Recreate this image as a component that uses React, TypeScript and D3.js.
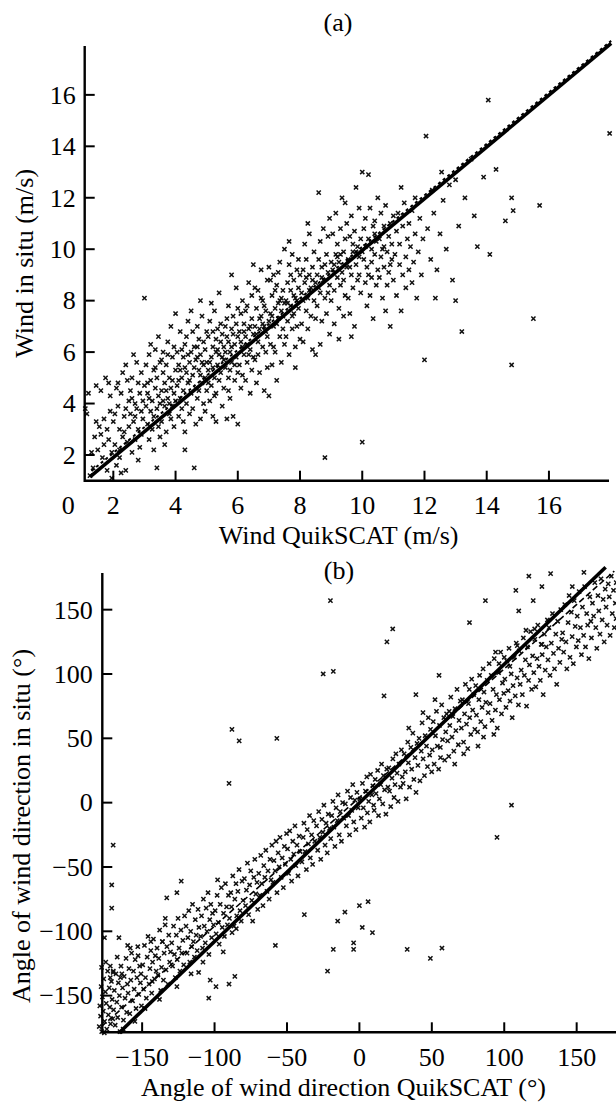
import React from 'react';
import * as d3 from 'd3';

// ---------- Data ----------
const speedTicks: number[] = [2, 4, 6, 8, 10, 12, 14, 16];
const speedTickLabels: string[] = ['2', '4', '6', '8', '10', '12', '14', '16'];
const speedOriginLabel = '0';
const dirTicks: number[] = [-150, -100, -50, 0, 50, 100, 150];
const dirTickLabels: string[] = ['\u2212150', '\u2212100', '\u221250', '0', '50', '100', '150'];

const titleA = '(a)';
const titleB = '(b)';
const xLabelA = 'Wind QuikSCAT (m/s)';
const yLabelA = 'Wind in situ (m/s)';
const xLabelB = 'Angle of wind direction QuikSCAT (\u00B0)';
const yLabelB = 'Angle of wind direction in situ (\u00B0)';

// Wind speed: [QuikSCAT, in situ] (m/s)
const windSpeedPoints: [number, number][] = [
  [1.1,3.8],[1.15,3.6],[1.25,1.2],[1.3,2.1],[1.35,1.5],[1.4,2.7],[1.45,4.7],[1.45,3.3],[1.5,2.2],[1.2,4.4],
  [1.55,3.1],[1.6,4.5],[1.6,2.8],[1.65,1.9],[1.7,3.4],[1.7,2.4],[1.75,5.0],[1.8,3.0],[1.8,1.4],[1.85,2.6],[1.9,3.7],[1.9,4.3],[1.95,2.1],[1.95,1.1],[2.0,3.3],[1.85,4.8],
  [2.05,2.4],[2.1,4.6],[2.1,1.6],[2.15,3.9],[2.2,2.2],[2.2,3.0],[2.25,4.4],[2.3,2.7],[2.3,5.2],[2.35,3.5],[2.4,1.4],[2.4,3.8],[2.45,2.5],[2.45,4.9],[2.5,3.1],[2.5,4.1],[2.2,1.9],[2.35,2.9],[2.05,3.6],[2.15,4.8],[2.4,5.5],[2.25,1.3],
  [2.55,3.6],[2.55,4.5],[2.6,2.1],[2.6,5.0],[2.65,3.3],[2.7,4.0],[2.7,2.6],[2.75,5.6],[2.75,3.8],[2.8,4.8],[2.8,3.0],[2.85,4.4],[2.85,2.3],[2.9,3.7],[2.9,5.2],[2.95,4.1],[2.95,3.4],[3.0,8.1],[3.0,4.7],[2.6,4.2],[2.7,3.5],[2.9,2.8],[2.65,5.9],[2.8,1.8],
  [3.05,3.9],[3.05,5.5],[3.1,3.2],[3.1,4.4],[3.15,5.9],[3.15,2.6],[3.2,3.7],[3.2,4.9],[3.25,4.1],[3.3,5.3],[3.3,3.5],[3.3,2.2],[3.35,4.6],[3.35,6.1],[3.4,3.8],[3.4,5.0],[3.45,4.3],[3.45,3.1],[3.5,5.6],[3.5,4.0],[3.2,6.3],[3.4,1.5],[3.1,4.8],[3.25,3.0],[3.35,5.4],[3.45,6.6],[3.15,4.2],[3.5,2.7],
  [3.55,4.5],[3.55,3.3],[3.6,5.2],[3.6,6.0],[3.65,3.9],[3.65,4.8],[3.7,2.9],[3.7,5.5],[3.75,4.2],[3.75,6.4],[3.8,3.6],[3.8,5.0],[3.85,4.6],[3.85,7.0],[3.9,3.9],[3.9,5.8],[3.95,4.4],[3.95,3.1],[4.0,5.3],[4.0,7.5],[3.6,4.1],[3.7,4.5],[3.8,4.0],[3.9,4.9],[3.65,2.4],[3.75,5.9],[3.85,3.4],[3.95,6.2],[3.55,5.7],[4.0,4.1],
  [4.05,4.7],[4.05,6.0],[4.1,3.5],[4.1,5.5],[4.15,4.2],[4.15,6.8],[4.2,5.0],[4.2,3.8],[4.25,5.8],[4.25,4.5],[4.3,6.3],[4.3,2.9],[4.35,5.2],[4.35,4.0],[4.4,7.2],[4.4,4.8],[4.45,5.6],[4.45,3.6],[4.5,6.0],[4.5,4.4],[4.1,4.9],[4.2,6.1],[4.3,5.4],[4.4,5.9],[4.25,3.3],[4.35,6.6],[4.45,4.9],[4.15,5.3],[4.5,7.6],[4.3,2.2],
  [4.55,5.1],[4.55,3.8],[4.6,6.2],[4.6,1.5],[4.65,4.6],[4.65,5.7],[4.7,7.0],[4.7,4.2],[4.75,5.3],[4.75,6.5],[4.8,3.4],[4.8,5.9],[4.85,4.8],[4.85,7.4],[4.9,5.5],[4.9,4.0],[4.95,6.1],[4.95,5.0],[5.0,6.8],[5.0,4.5],[4.6,5.4],[4.7,5.8],[4.8,5.1],[4.9,6.4],[4.65,3.2],[4.75,4.5],[4.85,5.6],[4.95,3.7],[4.55,6.8],[5.0,5.6],[4.8,8.0],[4.7,6.2],
  [5.05,5.3],[5.05,6.6],[5.1,4.1],[5.1,7.2],[5.15,5.8],[5.15,4.7],[5.2,6.2],[5.2,3.5],[5.25,5.0],[5.25,7.6],[5.3,6.0],[5.3,4.4],[5.35,5.5],[5.35,6.9],[5.4,4.9],[5.4,8.3],[5.45,6.4],[5.45,5.2],[5.5,5.8],[5.5,3.9],[5.1,5.6],[5.2,5.4],[5.3,6.5],[5.4,5.9],[5.15,7.9],[5.25,4.3],[5.35,6.1],[5.45,7.1],[5.05,4.8],[5.5,6.7],[5.3,3.3],[5.2,6.8],
  [5.55,6.2],[5.55,4.6],[5.6,7.0],[5.6,5.4],[5.65,3.4],[5.65,6.6],[5.7,5.0],[5.7,7.8],[5.75,6.0],[5.75,4.2],[5.8,6.9],[5.8,5.6],[5.85,3.5],[5.85,7.4],[5.9,6.3],[5.9,4.9],[5.95,5.8],[5.95,8.5],[6.0,6.6],[6.0,3.2],[5.6,6.0],[5.7,6.4],[5.8,6.2],[5.9,5.5],[5.65,7.3],[5.75,5.3],[5.85,6.7],[5.95,7.1],[5.55,5.7],[6.0,5.2],[5.8,9.0],[5.7,4.5],
  [6.05,6.8],[6.05,5.5],[6.1,7.5],[6.1,4.6],[6.15,6.2],[6.15,8.0],[6.2,5.9],[6.2,7.1],[6.25,4.9],[6.25,6.6],[6.3,7.8],[6.3,5.6],[6.35,6.9],[6.35,8.7],[6.4,6.1],[6.4,4.4],[6.45,7.3],[6.45,5.3],[6.5,6.7],[6.5,9.4],[6.1,6.4],[6.2,6.8],[6.3,6.3],[6.4,7.0],[6.15,5.1],[6.25,7.6],[6.35,5.9],[6.45,8.2],[6.0,7.7],[6.5,5.8],
  [6.55,7.0],[6.55,5.7],[6.6,7.7],[6.6,4.8],[6.65,6.4],[6.65,8.4],[6.7,6.9],[6.7,5.2],[6.75,7.4],[6.75,9.2],[6.8,6.2],[6.8,8.0],[6.85,7.0],[6.85,4.5],[6.9,7.6],[6.9,6.0],[6.95,8.8],[6.95,6.6],[7.0,7.2],[7.0,9.3],[6.6,6.7],[6.7,7.3],[6.8,7.1],[6.9,6.8],[6.65,5.9],[6.75,8.1],[6.85,7.8],[6.95,5.4],[7.0,4.3],[6.55,8.5],
  [7.05,7.5],[7.05,6.3],[7.1,8.2],[7.1,5.5],[7.15,7.0],[7.15,9.0],[7.2,7.7],[7.2,6.0],[7.25,8.6],[7.25,4.9],[7.3,7.3],[7.3,9.1],[7.35,6.6],[7.35,8.0],[7.4,7.6],[7.4,5.6],[7.45,8.4],[7.45,6.9],[7.5,7.9],[7.5,10.0],[7.1,7.4],[7.2,8.4],[7.3,7.9],[7.4,8.1],[7.15,6.2],[7.25,7.1],[7.35,9.5],[7.45,7.4],[7.05,8.8],[7.5,6.3],
  [7.55,8.0],[7.55,6.6],[7.6,8.7],[7.6,7.2],[7.65,9.4],[7.65,5.9],[7.7,7.8],[7.7,8.4],[7.75,6.9],[7.75,9.8],[7.8,7.5],[7.8,8.8],[7.85,6.2],[7.85,8.1],[7.9,9.2],[7.9,7.0],[7.95,8.5],[7.95,7.7],[8.0,9.0],[8.0,6.5],[7.6,7.9],[7.7,9.0],[7.8,8.2],[7.9,8.0],[7.65,10.3],[7.75,7.4],[7.85,5.4],[7.95,9.6],
  [8.05,8.3],[8.05,7.1],[8.1,9.2],[8.1,6.4],[8.15,8.7],[8.15,10.2],[8.2,7.6],[8.2,9.6],[8.25,8.1],[8.25,6.9],[8.3,9.0],[8.3,10.6],[8.35,7.4],[8.35,8.5],[8.4,9.3],[8.4,6.1],[8.45,8.0],[8.45,9.9],[8.5,8.7],[8.5,7.3],[8.1,8.0],[8.2,8.9],[8.3,8.4],[8.4,8.8],[8.25,11.0],[8.5,5.9],
  [8.55,9.0],[8.55,7.8],[8.6,12.2],[8.6,9.6],[8.65,8.3],[8.65,10.3],[8.7,7.2],[8.7,9.3],[8.75,8.8],[8.75,10.8],[8.8,1.9],[8.8,8.1],[8.85,9.8],[8.85,7.5],[8.9,9.1],[8.9,10.5],[8.95,8.6],[8.95,6.7],[9.0,9.5],[9.0,8.0],[8.6,8.5],[8.7,8.9],[8.8,9.4],[8.9,8.3],[8.65,6.3],[8.95,11.2],
  [9.05,9.2],[9.05,10.6],[9.1,8.4],[9.1,7.1],[9.15,9.8],[9.15,11.4],[9.2,8.9],[9.2,10.2],[9.25,7.7],[9.25,9.5],[9.3,10.8],[9.3,8.6],[9.35,9.1],[9.35,12.0],[9.4,9.9],[9.4,7.4],[9.45,8.2],[9.45,10.4],[9.5,9.3],[9.5,11.0],[9.1,9.4],[9.2,9.7],[9.3,9.8],[9.4,8.8],[9.25,6.5],[9.45,11.8],
  [9.55,9.6],[9.55,8.1],[9.6,10.5],[9.6,7.5],[9.65,9.0],[9.65,11.3],[9.7,9.9],[9.7,8.5],[9.75,10.7],[9.75,7.0],[9.8,9.4],[9.8,12.4],[9.85,8.8],[9.85,10.1],[9.9,9.7],[9.9,11.6],[9.95,8.3],[9.95,10.4],[10.0,2.5],[10.0,9.9],[9.6,9.3],[9.7,10.2],[9.8,9.9],[9.9,9.0],[10.0,13.0],[9.65,6.6],
  [10.05,9.6],[10.05,10.8],[10.1,8.7],[10.1,11.2],[10.15,9.3],[10.15,7.8],[10.2,10.4],[10.2,9.0],[10.25,11.6],[10.25,8.2],[10.3,10.0],[10.3,9.5],[10.35,10.9],[10.35,7.3],[10.4,9.8],[10.4,11.1],[10.45,8.6],[10.45,10.3],[10.5,9.2],[10.5,12.0],[10.1,10.1],[10.3,8.9],[10.4,10.6],[10.2,12.9],
  [10.55,10.4],[10.55,8.9],[10.6,9.7],[10.6,11.4],[10.65,8.1],[10.65,10.0],[10.7,10.9],[10.7,9.3],[10.75,7.6],[10.75,11.7],[10.8,9.9],[10.8,8.6],[10.85,10.5],[10.85,9.1],[10.9,11.0],[10.9,7.0],[10.95,9.6],[10.95,10.2],[11.0,8.8],[11.0,11.3],[10.7,10.1],[10.9,9.4],
  [11.05,9.8],[11.1,10.7],[11.1,8.2],[11.15,11.4],[11.2,9.4],[11.2,10.2],[11.25,7.6],[11.3,10.9],[11.3,9.0],[11.35,11.8],[11.4,9.7],[11.4,8.5],[11.45,10.4],[11.5,9.2],[11.5,11.0],[11.25,12.4],
  [11.55,10.1],[11.6,8.7],[11.6,11.5],[11.65,9.5],[11.7,10.6],[11.75,8.1],[11.8,9.9],[11.85,11.2],[11.9,9.0],[11.95,10.4],[12.0,5.7],[11.7,12.0],
  [12.05,14.4],[12.1,10.8],[12.2,9.6],[12.25,12.3],[12.3,11.4],[12.4,9.2],[12.5,10.6],[12.55,13.0],[12.6,11.9],[12.7,10.0],[12.8,12.5],[12.9,8.8],[13.0,12.7],[12.35,8.1],
  [13.1,10.9],[13.2,6.8],[13.3,12.0],[13.5,13.5],[13.6,11.3],[13.7,10.1],[13.9,12.8],[14.05,15.8],[14.1,9.8],[14.3,13.1],[14.6,11.1],[14.8,12.0],[14.8,5.5],[14.85,11.5],
  [15.5,7.3],[15.7,11.7],[17.95,14.5],[13.0,8.0],
];

// Wind direction: [QuikSCAT, in situ] (degrees)
const windDirPoints: [number, number][] = [
  [-179.6,-174],[-179.2,-158],[-178.7,-166],[-178.3,-143],[-177.9,-178],[-177.4,-151],[-176.8,-162],[-176.5,-137],[-175.9,-170],[-175.4,-147],[-174.8,-156],[-174.4,-176],[-173.8,-131],[-173.3,-165],[-172.7,-144],[-172.3,-159],[-171.8,-172],[-171.2,-139],[-170.7,-153],[-170.3,-168],[-178.0,-128],[-175.1,-124],[-172.0,-127],[-176.1,-179],
  [-169.7,-161],[-169.2,-146],[-168.6,-173],[-168.1,-133],[-167.5,-155],[-166.9,-167],[-166.4,-140],[-165.7,-150],[-165.3,-178],[-164.6,-127],[-164.2,-159],[-163.5,-144],[-162.9,-169],[-162.4,-135],[-161.8,-152],[-161.1,-121],[-160.7,-163],[-160.2,-141],[-167.2,-120],[-163.1,-176],[-169.9,-131],[-165.0,-136],
  [-159.7,-148],[-159.1,-129],[-158.5,-164],[-157.8,-138],[-157.3,-117],[-156.6,-154],[-156.0,-131],[-155.5,-145],[-154.8,-122],[-154.2,-160],[-153.6,-136],[-153.0,-112],[-152.3,-149],[-151.7,-127],[-151.2,-140],[-150.5,-158],[-158.2,-113],[-155.0,-170],[-152.8,-119],[-150.8,-133],
  [-149.6,-126],[-149.0,-145],[-148.4,-111],[-147.7,-136],[-147.1,-152],[-146.5,-120],[-145.9,-104],[-145.2,-141],[-144.6,-129],[-144.0,-115],[-143.4,-148],[-142.8,-124],[-142.2,-106],[-141.5,-137],[-140.9,-119],[-140.3,-131],[-148.0,-160],[-143.0,-139],
  [-139.7,-113],[-139.1,-134],[-138.5,-121],[-137.9,-99],[-137.2,-146],[-136.6,-128],[-136.0,-108],[-135.3,-138],[-134.8,-117],[-134.1,-95],[-133.5,-130],[-132.9,-112],[-132.2,-141],[-131.6,-103],[-131.0,-124],[-130.4,-116],[-138.0,-153],
  [-129.6,-109],[-129.0,-127],[-128.3,-96],[-127.7,-118],[-127.1,-136],[-126.4,-103],[-125.8,-122],[-125.2,-90],[-124.5,-113],[-123.9,-131],[-123.2,-99],[-122.6,-117],[-121.9,-107],[-121.3,-126],[-120.7,-88],[-126.0,-143],
  [-119.7,-96],[-119.0,-117],[-118.4,-105],[-117.8,-84],[-117.1,-124],[-116.5,-100],[-115.8,-112],[-115.2,-79],[-114.6,-108],[-113.9,-120],[-113.3,-91],[-112.7,-103],[-112.0,-115],[-111.4,-83],[-110.8,-97],[-116.2,-133],
  [-109.6,-104],[-109.0,-88],[-108.3,-113],[-107.7,-75],[-107.1,-96],[-106.4,-109],[-105.8,-82],[-105.2,-100],[-104.5,-70],[-103.9,-118],[-103.3,-91],[-102.6,-79],[-102.0,-105],[-101.4,-86],[-100.7,-95],
  [-99.6,-84],[-98.9,-102],[-98.2,-72],[-97.4,-93],[-96.8,-110],[-96.1,-79],[-95.3,-66],[-94.7,-97],[-93.8,-86],[-93.2,-104],[-92.5,-63],[-91.7,-81],[-91.1,-95],[-90.4,-72],[-97.9,-60],
  [-89.7,-90],[-88.8,-70],[-88.3,-81],[-87.4,-57],[-86.6,-96],[-86.0,-75],[-85.2,-63],[-84.7,-88],[-83.9,-69],[-83.1,-52],[-82.4,-84],[-81.6,-92],[-81.0,-61],[-80.3,-76],[-87.9,-101],
  [-79.4,-59],[-78.6,-80],[-78.0,-68],[-77.3,-47],[-76.5,-87],[-75.8,-64],[-75.0,-53],[-74.3,-76],[-73.7,-92],[-72.9,-58],[-72.2,-44],[-71.5,-71],[-70.7,-62],[-70.2,-83],
  [-69.5,-55],[-68.7,-72],[-68.1,-41],[-67.4,-63],[-66.6,-80],[-66.0,-49],[-65.3,-58],[-64.6,-37],[-63.8,-69],[-63.1,-53],[-62.3,-75],[-61.7,-44],[-61.0,-60],[-60.4,-33],
  [-59.7,-62],[-59.0,-45],[-58.2,-53],[-57.5,-30],[-56.9,-70],[-56.1,-39],[-55.4,-50],[-54.8,-27],[-54.0,-58],[-53.3,-43],[-52.5,-66],[-51.8,-34],[-51.1,-48],[-50.3,-24],
  [-49.6,-36],[-48.9,-55],[-48.1,-22],[-47.4,-44],[-46.8,-61],[-46.0,-30],[-45.3,-40],[-44.5,-18],[-43.9,-49],[-43.1,-33],[-42.4,-57],[-41.6,-26],[-40.9,-38],
  [-39.7,-46],[-38.8,-27],[-38.3,-16],[-37.5,-38],[-36.6,-52],[-36.0,-21],[-35.2,-32],[-34.4,-10],[-33.9,-43],[-33.0,-25],[-32.3,-48],[-31.5,-14],[-30.8,-30],
  [-29.6,-18],[-28.8,-37],[-28.1,-7],[-27.3,-27],[-26.7,-44],[-25.9,-13],[-25.2,-23],[-24.5,-2],[-23.7,-33],[-23.0,-16],[-22.2,-39],[-21.5,-9],[-20.7,-20],
  [-19.8,-28],[-19.1,-10],[-18.3,1],[-17.6,-19],[-16.9,-34],[-16.1,-4],[-15.3,-14],[-14.7,6],[-13.9,-25],[-13.2,-7],[-12.4,-30],[-11.6,0],[-10.8,-12],
  [-9.7,-1],[-9.0,-18],[-8.2,9],[-7.5,-10],[-6.8,-25],[-6.1,4],[-5.3,-6],[-4.6,14],[-3.9,-15],[-3.1,2],[-2.4,-21],[-1.7,8],[-0.9,-4],
  [0.4,3],[1.3,-12],[2.1,15],[2.7,-4],[3.6,-19],[4.2,9],[5.1,20],[5.5,-8],[6.4,1],[7.2,-15],[7.7,22],[8.6,6],[9.3,13],[9.8,-2],
  [10.2,-6],[10.9,18],[11.5,7],[12.6,25],[13.2,-10],[13.8,3],[14.7,14],[15.3,30],[16.1,-1],[16.6,21],[17.4,10],[18.3,-9],[18.9,26],[19.7,12],
  [20.3,27],[20.8,9],[21.6,-3],[22.5,19],[23.1,34],[23.9,4],[24.6,14],[25.2,38],[26.0,23],[26.7,1],[27.3,30],[28.4,12],[29.0,41],[29.6,20],
  [30.2,15],[30.9,38],[31.7,24],[32.3,3],[33.4,47],[33.8,31],[34.6,12],[35.5,43],[36.1,26],[36.9,54],[37.6,18],[38.4,35],[39.1,8],[39.8,46],[34.1,58],
  [40.4,29],[41.2,50],[41.8,17],[42.7,40],[43.3,62],[44.0,34],[44.9,21],[45.4,52],[46.3,44],[47.0,28],[47.6,66],[48.5,37],[49.1,57],[49.9,24],[43.9,70],
  [50.3,41],[51.0,63],[51.6,30],[52.5,52],[53.2,71],[53.8,44],[54.7,26],[55.3,60],[56.0,35],[56.8,76],[57.4,49],[58.3,66],[58.9,33],[59.6,55],[52.2,80],[55.9,43],
  [60.2,69],[60.9,48],[61.7,36],[62.4,60],[63.1,82],[63.9,51],[64.5,67],[65.2,40],[66.0,73],[66.6,56],[67.4,88],[68.3,45],[68.8,64],[69.7,79],[62.0,71],[65.8,30],
  [70.4,58],[71.1,80],[71.9,47],[72.6,69],[73.2,92],[73.9,61],[74.8,42],[75.3,77],[76.1,66],[76.9,53],[77.5,96],[78.2,72],[78.9,84],[79.7,57],[72.0,38],[75.9,88],
  [80.3,91],[80.8,68],[81.6,55],[82.5,80],[83.0,99],[83.8,63],[84.7,74],[85.4,104],[86.0,86],[86.7,59],[87.3,78],[88.2,95],[88.9,70],[89.6,108],[81.9,44],[85.7,51],
  [90.2,77],[91.0,99],[91.6,64],[92.3,88],[93.1,112],[93.9,72],[94.6,84],[95.2,58],[96.1,101],[96.7,80],[97.5,117],[98.1,69],[98.8,93],[99.7,85],[92.8,53],[96.4,108],
  [100.4,96],[101.2,74],[101.8,110],[102.7,87],[103.3,120],[104.0,79],[104.8,100],[105.5,66],[106.1,91],[106.9,113],[107.6,83],[108.3,124],[108.9,97],[109.8,76],[103.9,106],
  [110.3,118],[111.0,92],[111.7,103],[112.5,84],[113.2,128],[113.9,99],[114.6,111],[115.4,75],[116.0,121],[116.8,95],[117.4,107],[118.2,133],[118.9,88],[119.6,114],
  [120.4,101],[121.1,127],[121.8,90],[122.7,112],[123.2,138],[124.0,106],[124.9,95],[125.5,123],[126.2,115],[126.9,84],[127.7,131],[128.3,103],[129.0,121],[129.8,142],
  [130.2,111],[130.9,136],[131.6,99],[132.5,124],[133.3,147],[134.0,116],[134.7,104],[135.6,131],[136.2,92],[136.9,141],[137.5,120],[138.4,109],[139.0,150],[139.7,127],
  [140.3,132],[141.0,117],[141.8,154],[142.6,125],[143.2,104],[144.1,140],[144.8,161],[145.4,113],[146.3,148],[146.9,129],[147.7,108],[148.3,157],[149.0,137],[149.8,121],
  [150.4,145],[151.1,126],[151.7,164],[152.6,136],[153.3,115],[154.0,152],[154.8,130],[155.5,168],[156.1,121],[156.9,147],[157.6,138],[158.4,112],[159.1,160],[159.8,141],
  [160.2,128],[160.9,155],[161.7,145],[162.5,171],[163.2,136],[163.9,120],[164.7,161],[165.3,149],[166.1,131],[166.8,174],[167.6,142],[168.3,158],[169.0,125],[169.7,166],
  [170.3,152],[171.0,138],[171.8,170],[172.5,160],[173.1,130],[173.9,176],[174.6,147],[175.4,165],[176.0,136],[176.7,155],[177.3,171],[177.2,143],
  // scattered points
  [-170,-33],[-171,-64],[-171,-82],[-166,-105],[-160,-111],[-170,-132],[-172,-136],[-164,-133],[-144,-108],[-136,-108],[-134,-90],[-133,-74],[-126,-70],[-123,-61],[-176,-105],
  [-38,-87],[-15,-92],[-10,-85],[0,-80],[6,-77],[2,-97],[9,-101],[-4,-109],[-4,-114],[-18,-114],[-22,-131],[33,-114],[49,-121],[57,-113],[-58,-111],[-86,-135],[-90,-141],[-99,-143],[-103,-138],[-104,-152],[-108,-124],[-111,-132],[-94,-116],[-85,-98],
  [117,176],[132,178],[108,165],[126,168],[155,179],[147,168],[120,157],[110,149],[87,157],[76,140],[23,135],[19,125],[55,99],[39,84],[17,83],[115,134],[121,135],[109,122],[126,123],[94,117],[100,113],
  [-20,157],[-25,100],[-18,102],[-88,57],[-83,48],[-90,15],[-57,50],[95,-27],[105,-2],
];

// Fitted lines (endpoints)
const speedFitSolid: [number, number][] = [[1.25, 1.15], [18.0, 18.0]];
const speedFitDashed: [number, number][] = [[1.3, 1.38], [18.0, 18.1]];
const dirFitSolid: [number, number][] = [[-166, -179], [170, 183]];
const dirFitDashed: [number, number][] = [[-178, -174], [176, 180]];

const FONT = "'Liberation Serif', 'Times New Roman', serif";

function Cross({ x, y }: { x: number; y: number }) {
  const s = 2.1;
  return (
    <path
      d={`M${x - s},${y - s}L${x + s},${y + s}M${x - s},${y + s}L${x + s},${y - s}`}
      stroke="#111"
      strokeWidth={1.5}
      fill="none"
    />
  );
}

export default function App() {
  const W = 616, H = 1102;
  // Panel (a)
  const xA = d3.scaleLinear().domain([1.08, 17.93]).range([84.7, 609]);
  const yA = d3.scaleLinear().domain([1.0, 17.9]).range([480.7, 46]);
  // Panel (b)
  const xB = d3.scaleLinear().domain([-177.5, 177.5]).range([102.3, 616.5]);
  const yB = d3.scaleLinear().domain([-178.5, 178.5]).range([1032.3, 573]);

  const lineA = d3.line<[number, number]>().x(d => xA(d[0])).y(d => yA(d[1]));
  const lineB = d3.line<[number, number]>().x(d => xB(d[0])).y(d => yB(d[1]));

  const axisW = 2.4;
  const tickLen = 10;
  const fs = 26;
  const fsTitle = 26;

  const axA = { x0: xA.range()[0], x1: xA.range()[1], y0: yA.range()[1], y1: yA.range()[0] };
  const axB = { x0: xB.range()[0], x1: xB.range()[1], y0: yB.range()[1], y1: yB.range()[0] };

  return (
    <svg width={W} height={H} viewBox={`0 0 ${W} ${H}`}
      style={{ position: 'absolute', left: 0, top: 0, background: '#fff' }}
      fontFamily={FONT}>
      <rect x={0} y={0} width={W} height={H} fill="#fff" />

      {/* ---------- Panel (a) ---------- */}
      <text x={338} y={31} fontSize={fs} textAnchor="middle">{titleA}</text>
      <g>
        {windSpeedPoints.map((p, i) => (
          <Cross key={'a' + i} x={xA(p[0])} y={yA(p[1])} />
        ))}
      </g>
      <path d={lineA(speedFitSolid) || ''} stroke="#000" strokeWidth={3.6} fill="none" />
      <path d={lineA(speedFitDashed) || ''} stroke="#000" strokeWidth={2} strokeDasharray="3,3" fill="none" />
      <line x1={axA.x0} y1={axA.y0} x2={axA.x0} y2={axA.y1 + axisW / 2} stroke="#000" strokeWidth={axisW} />
      <line x1={axA.x0} y1={axA.y1} x2={axA.x1} y2={axA.y1} stroke="#000" strokeWidth={axisW} />
      {speedTicks.map((t, i) => (
        <g key={'ay' + t}>
          <line x1={axA.x0} x2={axA.x0 + tickLen} y1={yA(t)} y2={yA(t)} stroke="#000" strokeWidth={2} />
          <text x={axA.x0 - 9} y={yA(t)} dy="0.34em" fontSize={fs} textAnchor="end">{speedTickLabels[i]}</text>
        </g>
      ))}
      {speedTicks.map((t, i) => (
        <g key={'ax' + t}>
          <line x1={xA(t)} x2={xA(t)} y1={axA.y1} y2={axA.y1 - tickLen} stroke="#000" strokeWidth={2} />
          <text x={xA(t)} y={axA.y1 + 33} fontSize={fs} textAnchor="middle">{speedTickLabels[i]}</text>
        </g>
      ))}
      <text x={axA.x0 - 16.4} y={axA.y1 + 33} fontSize={fs} textAnchor="middle">{speedOriginLabel}</text>
      <text x={338.6} y={544} fontSize={fsTitle} textAnchor="middle">{xLabelA}</text>
      <text transform={`translate(33,${(axA.y0 + axA.y1) / 2}) rotate(-90)`} fontSize={fsTitle} textAnchor="middle">{yLabelA}</text>

      {/* ---------- Panel (b) ---------- */}
      <text x={339} y={579} fontSize={fs} textAnchor="middle">{titleB}</text>
      <g>
        {windDirPoints.map((p, i) => (
          <Cross key={'b' + i} x={xB(p[0])} y={yB(p[1])} />
        ))}
      </g>
      <path d={lineB(dirFitSolid) || ''} stroke="#000" strokeWidth={3.6} fill="none" />
      <path d={lineB(dirFitDashed) || ''} stroke="#000" strokeWidth={1.6} strokeDasharray="6,3" fill="none" />
      <line x1={axB.x0} y1={axB.y0} x2={axB.x0} y2={axB.y1 + axisW / 2} stroke="#000" strokeWidth={axisW} />
      <line x1={axB.x0} y1={axB.y1} x2={axB.x1} y2={axB.y1} stroke="#000" strokeWidth={axisW} />
      {dirTicks.map((t, i) => (
        <g key={'by' + t}>
          <line x1={axB.x0} x2={axB.x0 + tickLen} y1={yB(t)} y2={yB(t)} stroke="#000" strokeWidth={2} />
          <text x={axB.x0 - 9.5} y={yB(t)} dy="0.34em" fontSize={fs} textAnchor="end">{dirTickLabels[i]}</text>
        </g>
      ))}
      {dirTicks.map((t, i) => (
        <g key={'bx' + t}>
          <line x1={xB(t)} x2={xB(t)} y1={axB.y1} y2={axB.y1 - tickLen} stroke="#000" strokeWidth={2} />
          <text x={xB(t)} y={axB.y1 + 34} fontSize={fs} textAnchor="middle">{dirTickLabels[i]}</text>
        </g>
      ))}
      <text x={343.5} y={1096} fontSize={fsTitle} textAnchor="middle">{xLabelB}</text>
      <text transform={`translate(30,826) rotate(-90)`} fontSize={fsTitle} textAnchor="middle">{yLabelB}</text>
    </svg>
  );
}
